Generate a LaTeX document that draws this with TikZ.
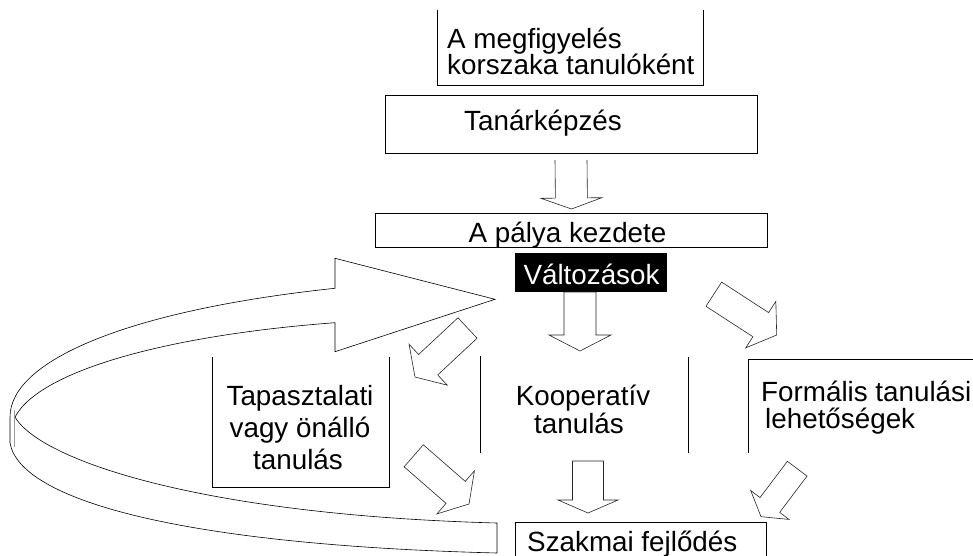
\documentclass[tikz,border=0pt]{standalone}
\usepackage{fontspec}
\setmainfont{Liberation Sans}
\usetikzlibrary{calc}
\tikzset{
  lbl/.style={font=\fontsize{27.8}{28}\selectfont, inner sep=0pt, anchor=base},
  lblw/.style={lbl, anchor=base west},
  frame/.style={draw=black, line width=0.7pt},
  blk/.style={draw=black!85, line width=0.6pt, line join=miter, fill=white},
  band/.style={draw=black, line width=0.6pt},
}
% #1 tail, #2 tip, #3 shaft half width, #4 head half width, #5 head length
\newcommand\blkarrow[5]{%
  \coordinate (#1-h) at ($(#2)!#5!(#1)$);
  \draw[blk] ($(#1)!#3!-90:(#2)$) -- ($(#1-h)!#3!-90:(#2)$) -- ($(#1-h)!#4!-90:(#2)$) -- (#2)
    -- ($(#1-h)!#4!90:(#2)$) -- ($(#1-h)!#3!90:(#2)$) -- ($(#1)!#3!90:(#2)$) -- cycle;}
\newcommand\blkarrowopen[5]{%
  \coordinate (#1-h) at ($(#2)!#5!(#1)$);
  \draw[blk, fill=none] ($(#1)!#3!-90:(#2)$) -- ($(#1-h)!#3!-90:(#2)$) -- ($(#1-h)!#4!-90:(#2)$) -- (#2)
    -- ($(#1-h)!#4!90:(#2)$) -- ($(#1-h)!#3!90:(#2)$) -- ($(#1)!#3!90:(#2)$);}
\begin{document}
\begin{tikzpicture}[x=1pt,y=-1pt]
\useasboundingbox (0,0) rectangle (973,556);
\clip (0,0) rectangle (973,556);

% boxes
\draw[frame] (437,10) -- (437,85) -- (703,85) -- (703,10);
\node[frame, minimum width=372pt, minimum height=58pt, inner sep=0pt] (tanbox) at (571,124) {};
\node[frame, minimum width=392pt, minimum height=34pt, inner sep=0pt] (palyabox) at (571,230) {};
\node[fill=black, minimum width=152pt, minimum height=39pt, inner sep=0pt] (valtbox) at (591,272.5) {};
\draw[frame] (212,357) -- (212,487) -- (389,487) -- (389,357);
\draw[frame] (480,356) -- (480,453);
\draw[frame] (688,357) -- (688,453);
\draw[frame] (748,453) -- (748,359) -- (985,359);
\draw[frame] (515,570) -- (515,522) -- (766,522) -- (766,570);

% texts
\node[lblw] (meg1) at (447,49) {A megfigyelés};
\node[lblw] (meg2) at (447,75) {korszaka tanulóként};
\node[lbl] (tan) at (543,131) {Tanárképzés};
\node[lbl] (palya) at (567.5,242) {A pálya kezdete};
\node[lbl, text=white] (valt) at (591.5,284) {Változások};
\node[lbl] (tap1) at (300,405) {Tapasztalati};
\node[lbl] (tap2) at (300,437) {vagy önálló};
\node[lbl] (tap3) at (298,469) {tanulás};
\node[lbl] (koop1) at (583,405) {Kooperatív};
\node[lbl] (koop2) at (579,433) {tanulás};
\node[lblw] (form1) at (761,401) {Formális tanulási};
\node[lblw] (form2) at (765,428) {lehetőségek};
\node[lblw] (szak) at (527,551) {Szakmai fejlődés};

% block arrows
\coordinate (a1s) at (571,160);   \coordinate (a1e) at (571.5,209);
\coordinate (a2s) at (580,292);   \coordinate (a2e) at (580,351);
\coordinate (a3s) at (467.5,328); \coordinate (a3e) at (415,377);
\coordinate (a4s) at (713.8,294.2); \coordinate (a4e) at (776.7,335);
\coordinate (a5s) at (413.7,455.8); \coordinate (a5e) at (469,504);
\coordinate (a6s) at (588,461);   \coordinate (a6e) at (588,513);
\coordinate (a7s) at (797.2,468.7); \coordinate (a7e) at (761,516.7);
\blkarrowopen{a1s}{a1e}{16pt}{30.5pt}{11pt}
\blkarrow{a2s}{a2e}{16pt}{31pt}{16pt}
\blkarrow{a3s}{a3e}{14pt}{28pt}{18pt}
\blkarrow{a4s}{a4e}{14.4pt}{27.7pt}{19pt}
\blkarrow{a5s}{a5e}{14.6pt}{28.6pt}{17.7pt}
\blkarrow{a6s}{a6e}{15.5pt}{30pt}{13pt}
\blkarrow{a7s}{a7e}{12.3pt}{24pt}{14.7pt}

% looping ribbon arrow
\draw[band] (335,322.7) .. controls (170,335) and (40,370) .. (15,417)
  .. controls (40,460) and (200,515) .. (497,523) -- (497,553)
  .. controls (180,545) and (20,500) .. (10,443) -- (10,417)
  .. controls (10,360) and (130,310) .. (335,288.3) -- (335,258.3)
  -- (495,299.3) -- (335,351.7) -- cycle;
\draw[black!40, line width=0.5pt] (14,410) -- (14,447);
\end{tikzpicture}
\end{document}
